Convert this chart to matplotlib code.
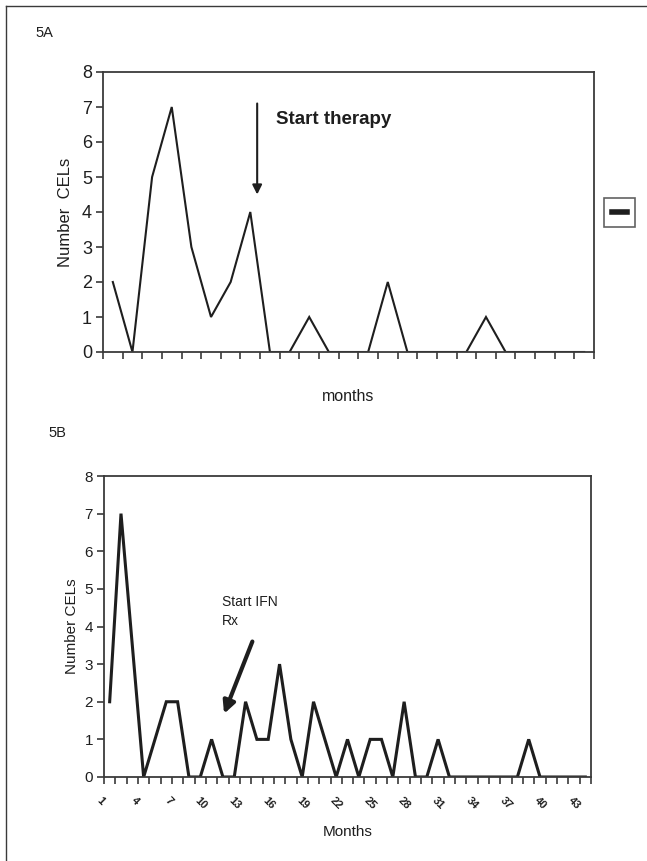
import matplotlib
matplotlib.use("Agg")
import matplotlib.pyplot as plt
import matplotlib.transforms as mtransforms
from matplotlib.lines import Line2D
from matplotlib import font_manager
import numpy as np

# panel 5A: CELs per visit (months unlabelled)
cels_a = [2, 0, 5, 7, 3, 1, 2, 4, 0, 0, 1, 0, 0, 0, 2, 0, 0, 0, 0, 1, 0, 0, 0, 0, 0]

# panel 5B: CELs per month, months 1..43
months_b = list(range(1, 44))
cels_b = [2, 7, 3.5, 0, 1, 2, 2, 0, 0, 1, 0, 0, 2, 1, 1, 3, 1, 0, 2, 1, 0, 1,
          0, 1, 1, 0, 2, 0, 0, 1, 0, 0, 0, 0, 0, 0, 0, 1, 0, 0, 0, 0, 0]
label_months_b = [str(m) for m in months_b if (m - 1) % 3 == 0]

available = {f.name for f in font_manager.fontManager.ttflist}
BASE = "Liberation Sans" if "Liberation Sans" in available else "DejaVu Sans"
NARROW = "Liberation Sans Narrow" if "Liberation Sans Narrow" in available else BASE
plt.rcParams["font.family"] = [BASE, "DejaVu Sans"]

INK = "#1e1e1e"
SPINE = "#3a3a3a"

fig = plt.figure(figsize=(6.47, 8.61), dpi=100)

# outer frame (top and left only, image is cropped)
fig.add_artist(Line2D([6 / 647, 1], [1 - 6 / 861, 1 - 6 / 861], transform=fig.transFigure,
                      color=SPINE, lw=1.0))
fig.add_artist(Line2D([6 / 647, 6 / 647], [0, 1 - 6 / 861], transform=fig.transFigure,
                      color=SPINE, lw=1.0))

fig.text(35 / 647, 1 - 33 / 861, "5A", fontsize=10.5, va="center", ha="left", color=INK)
fig.text(48 / 647, 1 - 433 / 861, "5B", fontsize=10.5, va="center", ha="left", color=INK)

# ---------------- 5A ----------------
ax1 = fig.add_axes([103 / 647, 1 - 352 / 861, 491 / 647, 280 / 861])
xa = np.arange(len(cels_a))
ax1.plot(xa, cels_a, color=INK, lw=1.5, solid_joinstyle="miter")
ax1.set_xlim(-0.5, len(cels_a) - 0.5)
ax1.set_ylim(0, 8)
ax1.set_yticks(range(0, 9))
ax1.set_xticks(np.arange(-0.5, len(cels_a), 1.0))
ax1.set_xticklabels([])
ax1.tick_params(axis="y", labelsize=13, length=5, width=1.2, color=SPINE, pad=3, labelcolor=INK)
ax1.tick_params(axis="x", length=5, width=1.2, color=SPINE, direction="out")
for s in ax1.spines.values():
    s.set_color(SPINE)
    s.set_linewidth(1.3)
ax1.set_ylabel("Number  CELs", fontsize=12, color=INK, labelpad=6)
ax1.set_xlabel("months", fontsize=11.5, color=INK, labelpad=18)

ax1.annotate("", xy=(7.35, 4.5), xytext=(7.35, 7.1),
             arrowprops=dict(arrowstyle="-|>", lw=1.5, color=INK,
                             mutation_scale=14, shrinkA=0, shrinkB=0))
ax1.text(8.3, 6.65, "Start therapy", fontsize=13.5, fontweight="bold",
         family=[NARROW, "DejaVu Sans"], ha="left", va="center", color=INK)

# small legend box at right
leg_handle = Line2D([], [], color=INK, lw=4)
leg = ax1.legend([leg_handle], [""], loc="center",
                 bbox_to_anchor=(1.052, 0.498), handlelength=1.1,
                 handletextpad=0, borderpad=0.55, fancybox=False,
                 frameon=True, borderaxespad=0)
leg.get_frame().set_edgecolor(SPINE)
leg.get_frame().set_linewidth(1.2)

# ---------------- 5B ----------------
ax2 = fig.add_axes([104 / 647, 1 - 777 / 861, 487 / 647, 301 / 861])
xb = np.arange(len(cels_b))
ax2.plot(xb, cels_b, color=INK, lw=2.2, solid_joinstyle="miter")
ax2.set_xlim(-0.5, len(cels_b) - 0.5)
ax2.set_ylim(0, 8)
ax2.set_yticks(range(0, 9))
ax2.set_xticks(np.arange(-0.5, len(cels_b), 1.0))
ax2.set_xticklabels([])
label_pos = [months_b.index(int(m)) for m in label_months_b]
ax2.set_xticks(label_pos, minor=True)
ax2.set_xticklabels(label_months_b, minor=True, rotation=-45, ha="right", va="top",
                    fontsize=8, fontweight="bold", color=INK)
ax2.tick_params(axis="x", which="minor", length=0, pad=13)
ax2.tick_params(axis="x", which="major", length=5, width=1.2, color=SPINE, direction="out")
ax2.tick_params(axis="y", labelsize=11, length=5, width=1.2, color=SPINE, pad=3, labelcolor=INK)
shift = mtransforms.ScaledTranslation(-3 / 100, 0, fig.dpi_scale_trans)
for lab in ax2.get_xticklabels(minor=True):
    lab.set_transform(lab.get_transform() + shift)
for s in ax2.spines.values():
    s.set_color(SPINE)
    s.set_linewidth(1.3)
ax2.set_ylabel("Number CELs", fontsize=11, color=INK, labelpad=4)
ax2.set_xlabel("Months", fontsize=11, color=INK, labelpad=10)

ax2.annotate("", xy=(10.1, 1.68), xytext=(12.6, 3.6),
             arrowprops=dict(arrowstyle="-|>", lw=3, color=INK,
                             mutation_scale=18, shrinkA=0, shrinkB=0))
ax2.text(9.9, 4.84, "Start IFN\nRx", fontsize=10, ha="left", va="top",
         linespacing=1.5, color=INK)

fig.savefig("out.png", dpi=100, facecolor="white")
